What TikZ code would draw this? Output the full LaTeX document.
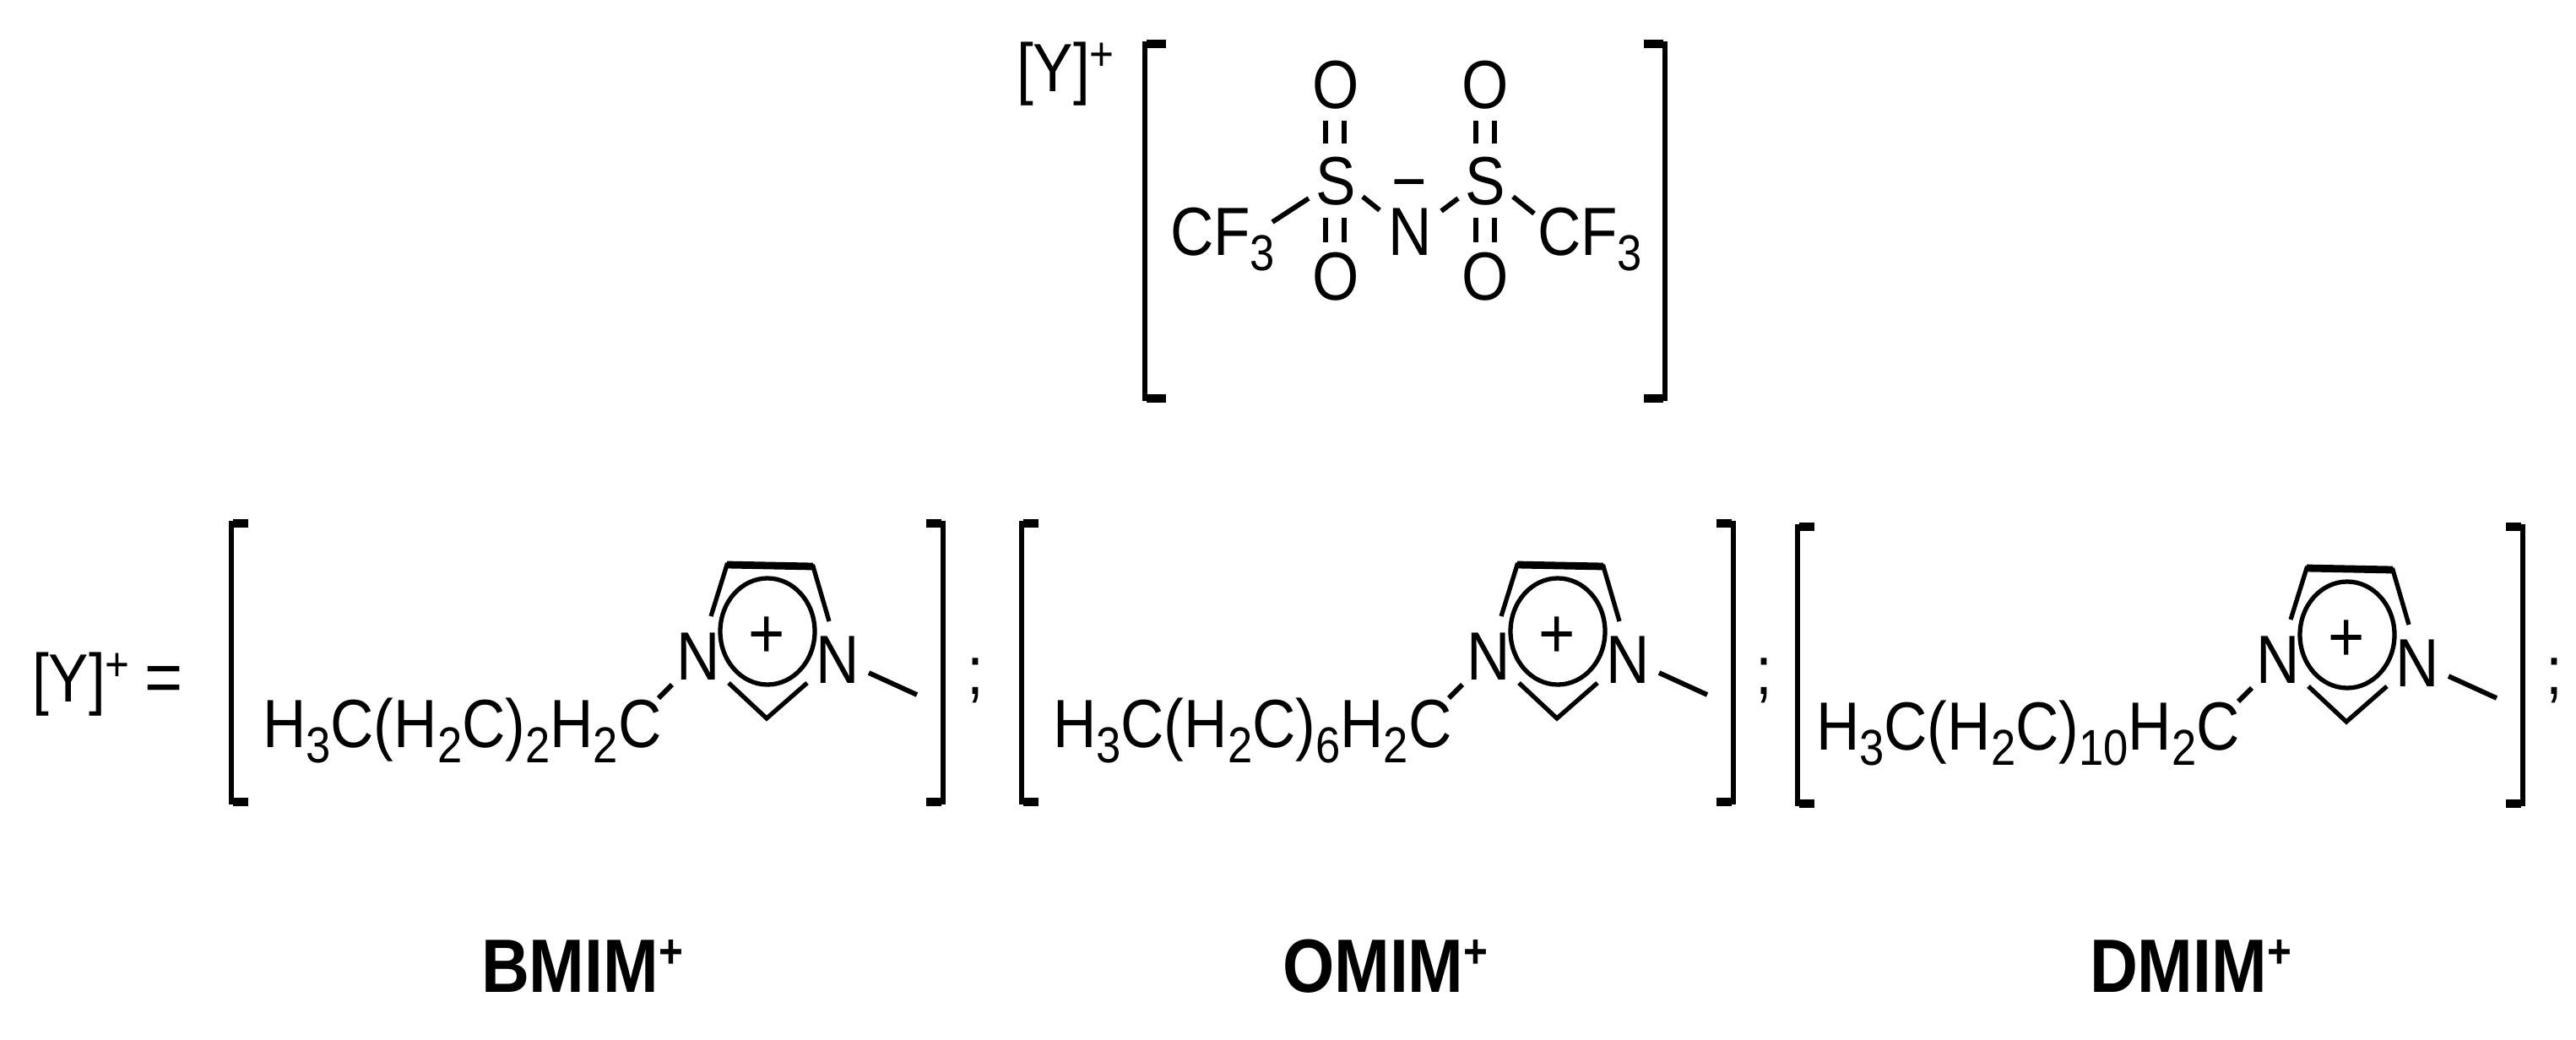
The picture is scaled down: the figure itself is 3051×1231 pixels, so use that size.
\documentclass[tikz,border=0pt]{standalone}
\usepackage{fontspec}
\setmainfont[FakeStretch=0.88]{Liberation Sans}
\newcommand{\lowsub}[1]{\raisebox{-10.6pt}{\fontsize{34}{34}\selectfont #1}}
\newcommand{\hisup}[1]{\raisebox{14pt}{\fontsize{32}{32}\selectfont #1}}
\newcommand{\chain}[1]{H\lowsub{3}C(H\lowsub{2}C)\lowsub{#1}H\lowsub{2}C}
\tikzset{
  txt/.style={inner sep=0pt,outer sep=0pt,font=\fontsize{46}{46}\selectfont,text=black},
  lbl/.style={inner sep=0pt,outer sep=0pt,anchor=base west,font=\fontsize{51}{51}\selectfont\bfseries,text=black},
  bond/.style={draw=black,line width=3.3pt,line cap=butt},
  dbond/.style={draw=black,line width=3pt,line cap=butt},
  ringline/.style={draw=black,line width=3pt,line join=miter},
  brk/.style={draw=black,line width=3.8pt,line join=miter,line cap=butt},
}
\newcommand{\cation}[3]{%
  \begin{scope}[shift={(#2,#3)}]
    \node[txt,anchor=base] (#1nl) at (827,805) {N};
    \node[txt,anchor=base] (#1nr) at (992,809) {N};
    \node[txt,anchor=center,font=\fontsize{48}{48}\selectfont] (#1plus) at (908,755) {+};
    \draw[ringline] (909,748) ellipse [x radius=56,y radius=63];
    \coordinate (#1a) at (842,730); \coordinate (#1b) at (861,669);
    \coordinate (#1c) at (963,671); \coordinate (#1d) at (982,736);
    \coordinate (#1e) at (863,809); \coordinate (#1f) at (908,851);
    \coordinate (#1g) at (956,809);
    \draw[ringline] (#1a) -- (#1b) -- (#1c) -- (#1d);
    \draw[ringline,line width=5pt] (#1b) -- (#1c);
    \draw[ringline] (#1e) -- (#1f) -- (#1g);
    \coordinate (#1m1) at (1029,797); \coordinate (#1m2) at (1086,823);
    \draw[bond] (#1m1) -- (#1m2);
    \coordinate (#1c1) at (780,827); \coordinate (#1c2) at (796,811);
    \draw[bond] (#1c1) -- (#1c2);
  \end{scope}}
\newcommand{\brackets}[6]{% name, xl, xr, ytop, ybot, tick
  \coordinate (#1lt) at (#2+#6,#4); \coordinate (#1lb) at (#2+#6,#5);
  \coordinate (#1rt) at (#3-#6,#4); \coordinate (#1rb) at (#3-#6,#5);
  \draw[brk] (#1lt) -- (#2,#4) -- (#2,#5) -- (#1lb);
  \draw[brk] (#1rt) -- (#3,#4) -- (#3,#5) -- (#1rb);
  \draw[brk,line width=5.5pt] (#1lt) -- (#2+2,#4) (#1lb) -- (#2+2,#5) (#1rt) -- (#3-2,#4) (#1rb) -- (#3-2,#5);}
\begin{document}
\begin{tikzpicture}[x=0.02cm,y=-0.02cm]
\useasboundingbox (0,0) rectangle (3051,1231);
\fill[white] (0,0) rectangle (3051,1231);
% anion
\node[txt,anchor=base west] (ytop) at (1204,108) {[Y]\hisup{+}};
\brackets{an}{1356}{1972}{52}{472}{25}
\node[txt,anchor=center] (o1) at (1582,101) {O};
\node[txt,anchor=center] (o2) at (1759,101) {O};
\node[txt,anchor=center] (s1) at (1582,215) {S};
\node[txt,anchor=center] (s2) at (1759,215) {S};
\node[txt,anchor=center] (o3) at (1582,328) {O};
\node[txt,anchor=center] (o4) at (1759,328) {O};
\node[txt,anchor=base] (n) at (1670,302) {N};
\node[txt,anchor=base] (minus) at (1669,242) {−};
\node[txt,anchor=base west] (cfl) at (1386,302) {CF\lowsub{3}};
\node[txt,anchor=base west] (cfr) at (1821,302) {CF\lowsub{3}};
% S=O bonds
\foreach \xa/\ya/\xb/\yb in {1570/143/1570/170,1592/143/1592/170,1748/143/1748/170,1770/143/1770/170,1570/258/1570/287,1592/258/1592/287,1748/258/1748/287,1770/258/1770/287}
  \draw[dbond] (\xa,\ya) -- (\xb,\yb);
% single bonds
\coordinate (b1a) at (1507,263); \coordinate (b1b) at (1550,235);
\coordinate (b2a) at (1614,233); \coordinate (b2b) at (1634,249);
\coordinate (b3a) at (1707,250); \coordinate (b3b) at (1727,235);
\coordinate (b4a) at (1792,233); \coordinate (b4b) at (1817,253);
\draw[bond] (b1a) -- (b1b);
\draw[bond] (b2a) -- (b2b);
\draw[bond] (b3a) -- (b3b);
\draw[bond] (b4a) -- (b4b);
% cations
\node[txt,anchor=base west] (ybot) at (38,831) {[Y]\hisup{+}};
\node[txt,anchor=center,font=\fontsize{50}{50}\selectfont] (eq) at (194,811) {=};
\brackets{ba}{274}{1117}{620}{950}{20}
\brackets{bb}{1210}{2053}{620}{950}{20}
\brackets{bc}{2129}{2988}{624}{952}{20}
\cation{a}{0}{0}
\cation{b}{936}{0}
\cation{c}{1871}{4}
\node[txt,anchor=base west] (ta) at (311,885) {\chain{2}};
\node[txt,anchor=base west] (tb) at (1247,885) {\chain{6}};
\node[txt,anchor=base west] (tc) at (2151,888) {\chain{10}};
\node[txt,anchor=base] (sa) at (1155,822) {;};
\node[txt,anchor=base] (sb) at (2089,822) {;};
\node[txt,anchor=base] (sc) at (3025,822) {;};
\node[lbl] (bmim) at (570,1175) {BMIM\raisebox{16pt}{\fontsize{32}{32}\selectfont +}};
\node[lbl] (omim) at (1519,1175) {OMIM\raisebox{16pt}{\fontsize{32}{32}\selectfont +}};
\node[lbl] (dmim) at (2475,1175) {DMIM\raisebox{16pt}{\fontsize{32}{32}\selectfont +}};
\end{tikzpicture}
\end{document}
